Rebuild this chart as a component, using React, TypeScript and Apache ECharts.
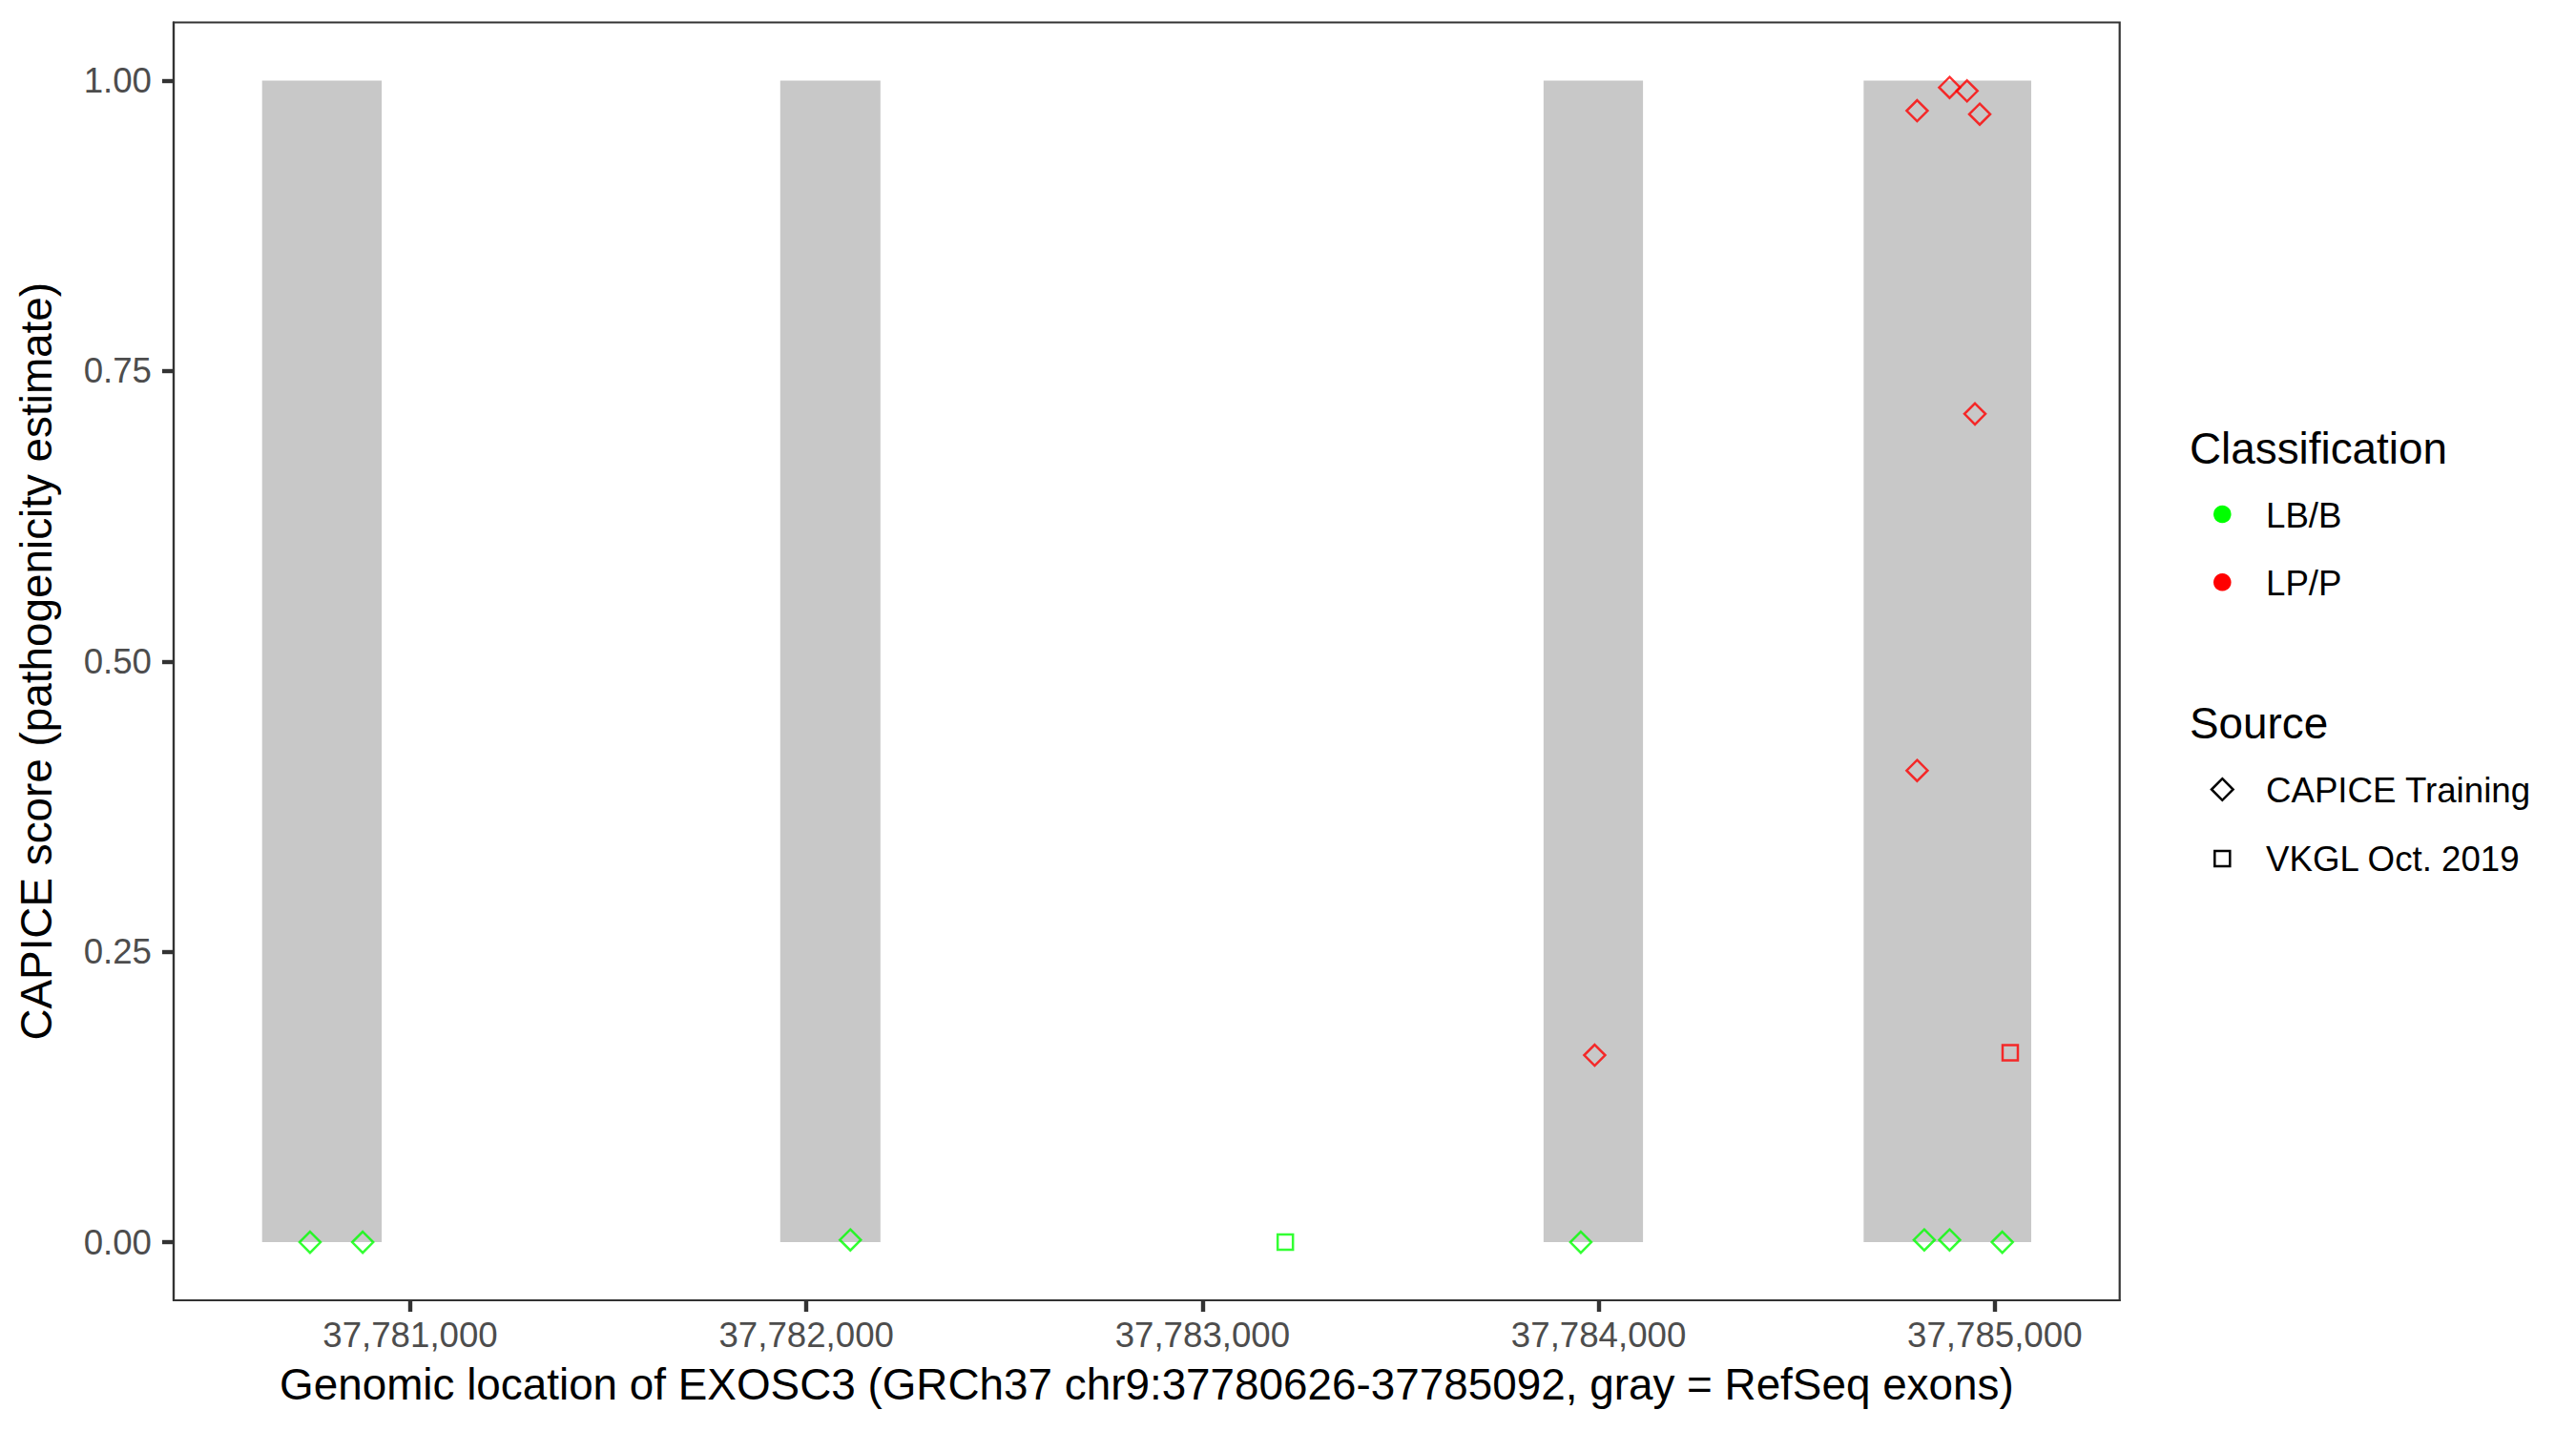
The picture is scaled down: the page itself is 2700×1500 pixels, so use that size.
import React, { useEffect, useRef } from "react";
import * as echarts from "echarts";

// Gene / exon data (GRCh37 chr9)
const geneStart = 37780626;
const geneEnd = 37785092;
const exonStarts = [37780626, 37781934, 37783861, 37784669];
const exonEnds = [37780928, 37782187, 37784112, 37785092];

// Axis ticks
const xTicks = [37781000, 37782000, 37783000, 37784000, 37785000];
const yTicks = [0, 0.25, 0.5, 0.75, 1];

// Variants: CAPICE Training, LB/B
const capiceBenignPos = [37780747, 37780880, 37782111, 37783955, 37784822, 37784886, 37785019];
const capiceBenignScore = [0.0, 0.0, 0.002, 0.0, 0.002, 0.002, 0.0];
// VKGL Oct. 2019, LB/B
const vkglBenignPos = [37783209];
const vkglBenignScore = [0.0];
// CAPICE Training, LP/P
const capicePathoPos = [37783990, 37784804, 37784886, 37784930, 37784962, 37784950, 37784804];
const capicePathoScore = [0.161, 0.974, 0.994, 0.991, 0.971, 0.713, 0.406];
// VKGL Oct. 2019, LP/P
const vkglPathoPos = [37785039];
const vkglPathoScore = [0.163];

const GREEN = "#00FF00";
const RED = "#FF0000";
const FONT = "'Liberation Sans', Arial, Helvetica, sans-serif";
const TITLE_SIZE = 45.83;
const TEXT_SIZE = 36.67;
const Y_MIN = -0.05;
const Y_MAX = 1.05;

const zip = (a: number[], b: number[]) => a.map((v, i) => [v, b[i]]);

export default function App() {
  const ref = useRef<HTMLDivElement>(null);

  useEffect(() => {
    document.body.style.margin = "0";
    if (!ref.current) return;
    const chart = echarts.init(ref.current, undefined, { renderer: "svg" });

    const span = geneEnd - geneStart;
    const xMin = geneStart - 0.05 * span;
    const xMax = geneEnd + 0.05 * span;

    const markStyle = (color: string) => ({
      color: "rgba(0,0,0,0)",
      borderColor: color,
      borderWidth: 2.5,
    });

    const tickOpt = (values: number[]) => ({
      show: true,
      length: 12,
      lineStyle: { color: "#333333", width: 4.4 },
      customValues: values,
    });

    const legendX = 2295;
    const keyX = 2329.3;
    const textX = 2375;

    chart.setOption({
      animation: false,
      backgroundColor: "#FFFFFF",
      textStyle: { fontFamily: FONT },
      grid: {
        left: 182,
        right: 478.3,
        top: 23.5,
        bottom: 137,
        show: true,
        borderColor: "#333333",
        borderWidth: 2.2,
      },
      xAxis: {
        type: "value",
        min: xMin,
        max: xMax,
        name: "Genomic location of EXOSC3 (GRCh37 chr9:37780626-37785092, gray = RefSeq exons)",
        nameLocation: "middle",
        nameGap: 88,
        nameTextStyle: {
          fontSize: TITLE_SIZE,
          color: "#000000",
          fontFamily: FONT,
          verticalAlign: "middle",
        },
        axisLine: { show: true, onZero: false, lineStyle: { color: "#333333", width: 2.2 } },
        splitLine: { show: false },
        axisTick: tickOpt(xTicks),
        axisLabel: {
          customValues: xTicks,
          fontSize: TEXT_SIZE,
          color: "#4D4D4D",
          fontFamily: FONT,
          margin: 36,
          verticalAlign: "middle",
          formatter: (v: number) => Math.round(v).toLocaleString("en-US"),
        },
      },
      yAxis: {
        type: "value",
        min: Y_MIN,
        max: Y_MAX,
        name: "CAPICE score (pathogenicity estimate)",
        nameLocation: "middle",
        nameGap: 144,
        nameRotate: 90,
        nameTextStyle: {
          fontSize: TITLE_SIZE,
          color: "#000000",
          fontFamily: FONT,
          verticalAlign: "middle",
        },
        axisLine: { show: true, onZero: false, lineStyle: { color: "#333333", width: 2.2 } },
        splitLine: { show: false },
        axisTick: tickOpt(yTicks),
        axisLabel: {
          customValues: yTicks,
          fontSize: TEXT_SIZE,
          color: "#4D4D4D",
          fontFamily: FONT,
          margin: 23,
          formatter: (v: number) => v.toFixed(2),
        },
      },
      series: [
        {
          type: "custom",
          name: "exons",
          z: 1,
          silent: true,
          renderItem: (params: any, api: any) => {
            const p0 = api.coord([api.value(0), api.value(2)]);
            const p1 = api.coord([api.value(1), api.value(3)]);
            return {
              type: "rect",
              shape: {
                x: p0[0],
                y: p1[1],
                width: p1[0] - p0[0],
                height: p0[1] - p1[1],
              },
              style: { fill: "#C8C8C8" },
            };
          },
          encode: { x: [0, 1], y: [2, 3] },
          data: exonStarts.map((s, i) => [s, exonEnds[i], 0, 1]),
        },
        {
          type: "scatter",
          name: "LB/B CAPICE Training",
          z: 3,
          symbol: "diamond",
          symbolSize: 22,
          itemStyle: markStyle(GREEN),
          data: zip(capiceBenignPos, capiceBenignScore),
        },
        {
          type: "scatter",
          name: "LB/B VKGL Oct. 2019",
          z: 3,
          symbol: "rect",
          symbolSize: 16,
          itemStyle: markStyle(GREEN),
          data: zip(vkglBenignPos, vkglBenignScore),
        },
        {
          type: "scatter",
          name: "LP/P CAPICE Training",
          z: 3,
          symbol: "diamond",
          symbolSize: 22,
          itemStyle: markStyle(RED),
          data: zip(capicePathoPos, capicePathoScore),
        },
        {
          type: "scatter",
          name: "LP/P VKGL Oct. 2019",
          z: 3,
          symbol: "rect",
          symbolSize: 16,
          itemStyle: markStyle(RED),
          data: zip(vkglPathoPos, vkglPathoScore),
        },
      ],
      graphic: [
        {
          type: "text",
          x: legendX,
          y: 470,
          style: { text: "Classification", fontSize: TITLE_SIZE, fontFamily: FONT, fill: "#000000", align: "left", verticalAlign: "middle" },
        },
        { type: "circle", shape: { cx: keyX, cy: 539, r: 9.3 }, style: { fill: GREEN } },
        {
          type: "text",
          x: textX,
          y: 540,
          style: { text: "LB/B", fontSize: TEXT_SIZE, fontFamily: FONT, fill: "#000000", align: "left", verticalAlign: "middle" },
        },
        { type: "circle", shape: { cx: keyX, cy: 610.3, r: 9.3 }, style: { fill: RED } },
        {
          type: "text",
          x: textX,
          y: 611,
          style: { text: "LP/P", fontSize: TEXT_SIZE, fontFamily: FONT, fill: "#000000", align: "left", verticalAlign: "middle" },
        },
        {
          type: "text",
          x: legendX,
          y: 758,
          style: { text: "Source", fontSize: TITLE_SIZE, fontFamily: FONT, fill: "#000000", align: "left", verticalAlign: "middle" },
        },
        {
          type: "polygon",
          shape: { points: [[keyX, 816.2], [keyX + 11.3, 827.5], [keyX, 838.8], [keyX - 11.3, 827.5]] },
          style: { fill: "none", stroke: "#000000", lineWidth: 2.5 },
        },
        {
          type: "text",
          x: textX,
          y: 828,
          style: { text: "CAPICE Training", fontSize: TEXT_SIZE, fontFamily: FONT, fill: "#000000", align: "left", verticalAlign: "middle" },
        },
        {
          type: "rect",
          shape: { x: keyX - 8, y: 892, width: 16, height: 16 },
          style: { fill: "none", stroke: "#000000", lineWidth: 2.5 },
        },
        {
          type: "text",
          x: textX,
          y: 900,
          style: { text: "VKGL Oct. 2019", fontSize: TEXT_SIZE, fontFamily: FONT, fill: "#000000", align: "left", verticalAlign: "middle" },
        },
      ],
    });

    return () => {
      chart.dispose();
    };
  }, []);

  return <div ref={ref} style={{ width: 2700, height: 1500 }} />;
}
